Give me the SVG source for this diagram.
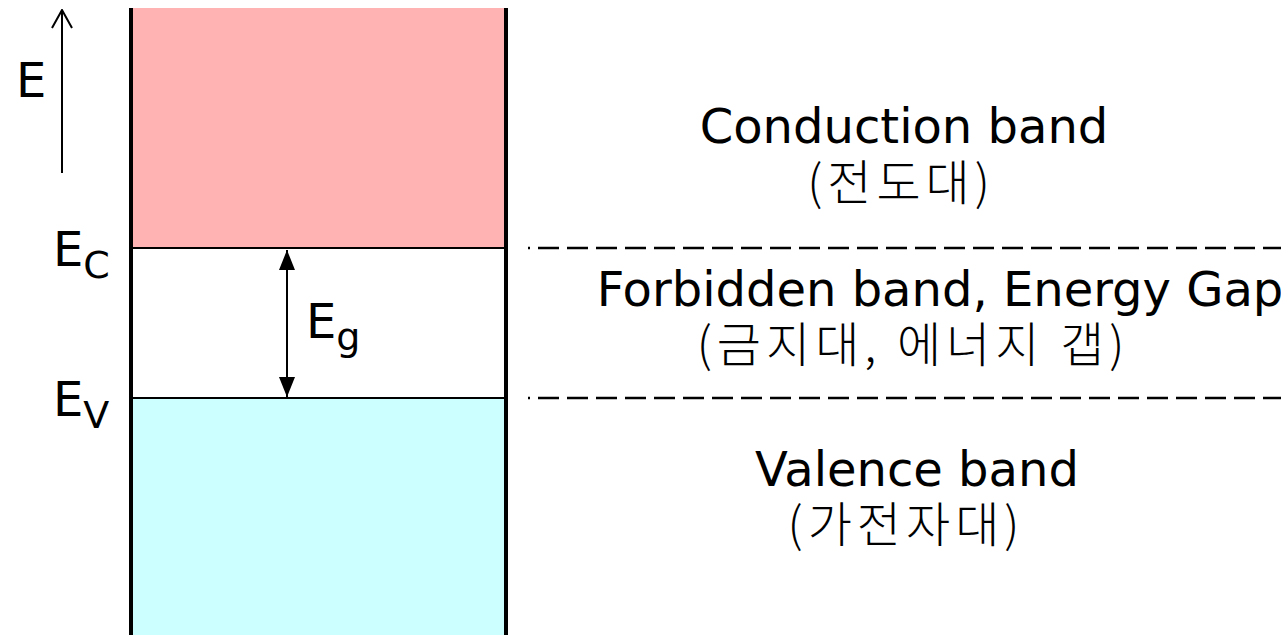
<svg xmlns="http://www.w3.org/2000/svg" width="1281" height="635" viewBox="0 0 1281 635">
  <style>
    .lbl { font-family: "DejaVu Sans", "Noto Sans CJK KR", sans-serif; fill: #000; }
    .big { font-size: 48px; }
    .sub { font-size: 38px; }
    .kor { font-family: "Noto Sans CJK KR", sans-serif; font-size: 48px; font-weight: 300; letter-spacing: 5px; fill: #000; }
    .edge { stroke: #000; stroke-width: 4; fill: none; }
    .level { stroke: #000; stroke-width: 2; fill: none; }
    .dash { stroke: #000; stroke-width: 2.5; fill: none; stroke-dasharray: 21 8; stroke-dashoffset: 19; }
  </style>
  <defs>
    <!-- open chevron head, drawn pointing along +x -->
    <marker id="openHead" viewBox="0 0 20 22" refX="19" refY="11" markerWidth="20" markerHeight="22" markerUnits="userSpaceOnUse" orient="auto">
      <path d="M1,1 L19,11 L1,21" fill="none" stroke="#000" stroke-width="2"/>
    </marker>
    <!-- filled triangular head, drawn pointing along +x -->
    <marker id="solidHead" viewBox="0 0 20 16" refX="20" refY="8" markerWidth="20" markerHeight="16" markerUnits="userSpaceOnUse" orient="auto-start-reverse">
      <path d="M20,8 L0,0 L0,16 Z" fill="#000"/>
    </marker>
  </defs>

  <!-- energy bands -->
  <g id="conduction-band">
    <rect x="131" y="8" width="375" height="240" fill="#FFB3B3"/>
  </g>
  <g id="forbidden-band">
    <rect x="131" y="248" width="375" height="150" fill="#FFFFFF"/>
  </g>
  <g id="valence-band">
    <rect x="131" y="398" width="375" height="237" fill="#CCFFFF"/>
  </g>

  <g id="frame">
    <line class="edge" x1="131" y1="8" x2="131" y2="635"/>
    <line class="edge" x1="506" y1="8" x2="506" y2="635"/>
    <line class="level" x1="131" y1="248" x2="506" y2="248"/>
    <line class="level" x1="131" y1="398" x2="506" y2="398"/>
  </g>

  <g id="connectors">
    <line x1="62" y1="173" x2="62" y2="10" stroke="#000" stroke-width="2" marker-end="url(#openHead)"/>
    <line x1="287" y1="250" x2="287" y2="397" stroke="#000" stroke-width="2" marker-start="url(#solidHead)" marker-end="url(#solidHead)"/>
    <line class="dash" x1="528" y1="248" x2="1281" y2="248"/>
    <line class="dash" x1="528" y1="398" x2="1281" y2="398"/>
  </g>

  <!-- axis and level labels -->
  <g id="axis-label">
    <text class="lbl big" x="16" y="97">E</text>
  </g>
  <g id="label-ec">
    <text class="lbl big" x="53" y="266">E<tspan class="sub" dy="12">C</tspan></text>
  </g>
  <g id="label-ev">
    <text class="lbl big" x="53" y="416">E<tspan class="sub" dy="12">V</tspan></text>
  </g>
  <g id="label-eg">
    <text class="lbl big" x="306" y="338">E<tspan class="sub" dy="12">g</tspan></text>
  </g>

  <!-- band descriptions -->
  <g id="text-conduction">
    <text class="lbl big" x="904" y="143" text-anchor="middle">Conduction band</text>
    <text class="kor" x="901" y="200" text-anchor="middle">(전도대)</text>
  </g>
  <g id="text-forbidden">
    <text class="lbl big" x="940" y="306" text-anchor="middle">Forbidden band, Energy Gap</text>
    <text class="kor" x="913" y="362" text-anchor="middle">(금지대, 에너지 갭)</text>
  </g>
  <g id="text-valence">
    <text class="lbl big" x="917" y="486" text-anchor="middle">Valence band</text>
    <text class="kor" x="906" y="542" text-anchor="middle">(가전자대)</text>
  </g>
</svg>
